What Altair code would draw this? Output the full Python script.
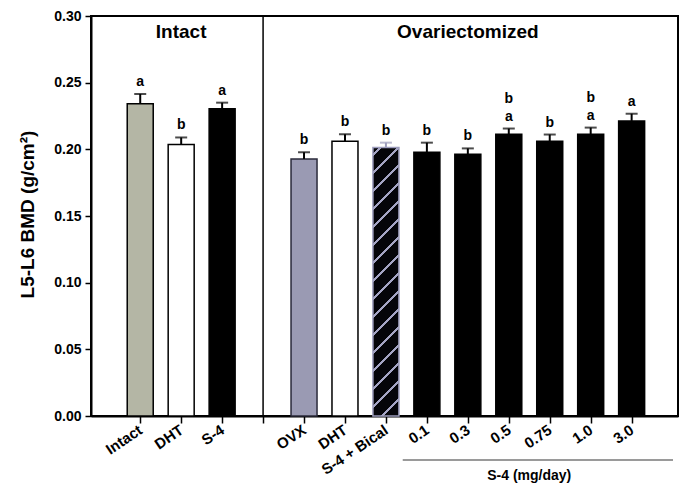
import altair as alt
import pandas as pd

# ---- data ----
positions = [1, 2, 3, 5, 6, 7, 8, 9, 10, 11, 12, 13]
labels = ["Intact", "DHT", "S-4", "OVX", "DHT", "S-4 + Bical",
          "0.1", "0.3", "0.5", "0.75", "1.0", "3.0"]
means = [0.2341, 0.2037, 0.2304, 0.1928, 0.2061, 0.2013,
         0.1978, 0.1963, 0.2113, 0.2061, 0.2113, 0.2213]
errs = [0.0074, 0.0052, 0.0046, 0.0050, 0.0052, 0.0037,
        0.0072, 0.0044, 0.0043, 0.0050, 0.0050, 0.0054]
letters_low = ["a", "b", "a", "b", "b", "b", "b", "b", "a", "b", "a", "a"]
letters_high = ["", "", "", "", "", "", "", "", "b", "", "b", ""]
fills = ["#b4b6a5", "#ffffff", "#000000", "#9a9ab3", "#ffffff", "hatch",
         "#000000", "#000000", "#000000", "#000000", "#000000", "#000000"]
strokes = ["#000000", "#000000", "#000000", "#2a2a3a", "#000000", "#9c9cbc",
           "#000000", "#000000", "#000000", "#000000", "#000000", "#000000"]
err_colors = ["#000000"] * 5 + ["#9c9cbc"] + ["#000000"] * 6

divider_pos = [4]
group_titles = ["Intact", "Ovariectomized"]
group_x = [2, 9]
group_y = [0.288, 0.288]

axis_names = ["", "Intact", "DHT", "S-4", "", "OVX", "DHT", "S-4 + Bical",
              "0.1", "0.3", "0.5", "0.75", "1.0", "3.0"]

dose_label = ["S-4 (mg/day)"]
dose_x = [10.5]
dose_y = [-0.0450]
dose_line_x = [7.41]
dose_line_x2 = [14.01]
dose_line_y = [-0.0330]

df = pd.DataFrame({
    "pos": positions, "label": labels, "mean": means, "err": errs,
    "low": letters_low, "high": letters_high, "fill": fills,
    "stroke": strokes, "ecol": err_colors,
})
df["top"] = df["mean"] + df["err"]

FONT = "Liberation Sans"
xscale = alt.Scale(domain=[-0.08, 14.01], nice=False, zero=False)
yscale = alt.Scale(domain=[0, 0.30], nice=False)

label_expr = "[" + ",".join("'" + n + "'" for n in axis_names) + "][datum.value]"

x_axis = alt.Axis(values=list(range(1, 14)), labelExpr=label_expr, title=None,
                  labelAngle=-34, labelAlign="right", labelBaseline="middle",
                  labelFontSize=15, labelFontWeight="bold", labelFont=FONT,
                  labelPadding=5, tickSize=7, labelColor="black", labelOverlap=False,
                  labelFlush=False)
y_axis = alt.Axis(values=[0, 0.05, 0.10, 0.15, 0.20, 0.25, 0.30], format=".2f",
                  title="L5-L6 BMD (g/cm²)", titleFontSize=19, titleFont=FONT,
                  titleFontWeight="bold", titleColor="black",
                  titleX=-64, titleY=198, titleAngle=-90, titleBaseline="middle",
                  titleAlign="center", titleLimit=400,
                  labelFontSize=14, labelFontWeight="bold", labelFont=FONT,
                  labelColor="black", tickSize=6, labelPadding=4)

base = alt.Chart(df)

bars = base.transform_filter(alt.datum.fill != "hatch").mark_bar(
    size=26, strokeWidth=1.5).encode(
    x=alt.X("pos:Q", scale=xscale, axis=x_axis),
    y=alt.Y("mean:Q", scale=yscale, axis=y_axis),
    fill=alt.Fill("fill:N", scale=None),
    stroke=alt.Stroke("stroke:N", scale=None),
)

# diagonal hatch via hard-stop gradient
bw, bh = 26.0, 0.2013 * 1333
r = bw / bh
s = (1 + r) / (1 + r * r)
period, thick = 18.0 / (bw + bh), 3.0 / (bw + bh)
stops = []
o = 0.02
black, line = "#05050a", "#a4a4c4"
stops.append(alt.GradientStop(color=black, offset=0))
while o + thick < 1:
    stops += [alt.GradientStop(color=black, offset=o),
              alt.GradientStop(color=line, offset=o),
              alt.GradientStop(color=line, offset=o + thick),
              alt.GradientStop(color=black, offset=o + thick)]
    o += period
stops.append(alt.GradientStop(color=black, offset=1))
grad = alt.LinearGradient(gradient="linear", stops=stops,
                          x1=0, y1=0, x2=r * s, y2=s)

hatch = base.transform_filter(alt.datum.fill == "hatch").mark_bar(
    size=26, strokeWidth=1.5, fill=grad).encode(
    x=alt.X("pos:Q", scale=xscale),
    y=alt.Y("mean:Q", scale=yscale),
    stroke=alt.Stroke("stroke:N", scale=None),
)

stems = base.mark_rule(strokeWidth=2).encode(
    x=alt.X("pos:Q", scale=xscale),
    y=alt.Y("mean:Q", scale=yscale),
    y2="top:Q",
    color=alt.Color("ecol:N", scale=None),
)
caps = base.mark_tick(orient="horizontal", size=12, thickness=2).encode(
    x=alt.X("pos:Q", scale=xscale),
    y=alt.Y("top:Q", scale=yscale),
    color=alt.Color("ecol:N", scale=None),
)
low_txt = base.mark_text(dy=-8, baseline="alphabetic", fontSize=14,
                         fontWeight="bold", font=FONT, color="black").encode(
    x=alt.X("pos:Q", scale=xscale),
    y=alt.Y("top:Q", scale=yscale),
    text="low:N",
)
high_txt = base.mark_text(dy=-26, baseline="alphabetic", fontSize=14,
                          fontWeight="bold", font=FONT, color="black").encode(
    x=alt.X("pos:Q", scale=xscale),
    y=alt.Y("top:Q", scale=yscale),
    text="high:N",
)

divider = alt.Chart(pd.DataFrame({"d": divider_pos})).mark_rule(
    color="black", strokeWidth=1.5).encode(x=alt.X("d:Q", scale=xscale))

gtitles = alt.Chart(pd.DataFrame({"t": group_titles, "x": group_x, "y": group_y})).mark_text(
    fontSize=19, fontWeight="bold", font=FONT, color="black", baseline="middle").encode(
    x=alt.X("x:Q", scale=xscale), y=alt.Y("y:Q", scale=yscale), text="t:N")

dose_line = alt.Chart(pd.DataFrame({"x": dose_line_x, "x2": dose_line_x2, "y": dose_line_y})).mark_rule(
    color="#9a9a9a", strokeWidth=2, clip=False).encode(
    x=alt.X("x:Q", scale=xscale), x2="x2:Q", y=alt.Y("y:Q", scale=yscale))

dose_txt = alt.Chart(pd.DataFrame({"t": dose_label, "x": dose_x, "y": dose_y})).mark_text(
    fontSize=14, fontWeight="bold", font=FONT, color="black", baseline="middle", clip=False).encode(
    x=alt.X("x:Q", scale=xscale), y=alt.Y("y:Q", scale=yscale), text="t:N")

chart = alt.layer(bars, hatch, divider, stems, caps, low_txt, high_txt,
                  gtitles, dose_line, dose_txt).properties(
    width=587, height=400,
    autosize=alt.AutoSizeParams(type="none"),
    padding={"left": 83, "top": 8, "right": 2, "bottom": 68},
    background="white",
).configure_view(stroke="black", strokeWidth=2).configure_axis(
    grid=False, domainColor="black", domainWidth=2, tickColor="black", tickWidth=1.5,
)

chart.save("out.html", embed_options={"renderer": "svg", "actions": False})
